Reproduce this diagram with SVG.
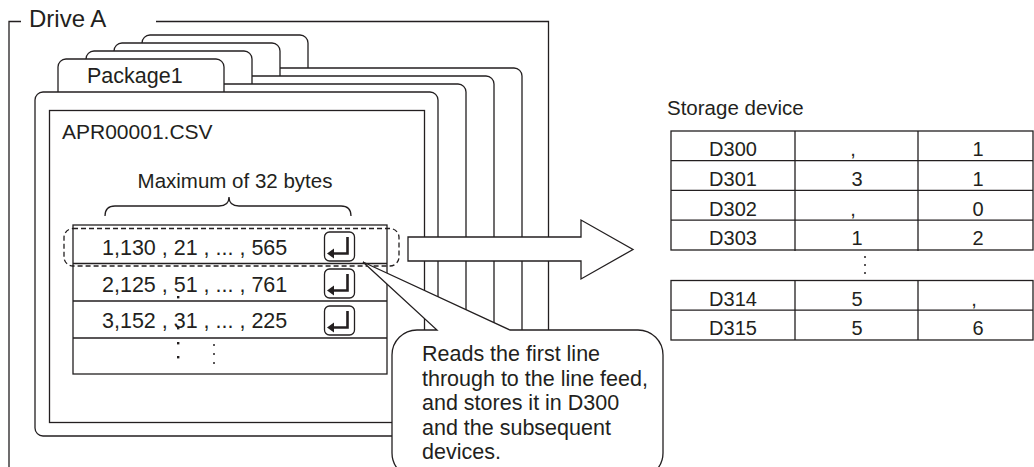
<svg xmlns="http://www.w3.org/2000/svg" width="1034" height="467" viewBox="0 0 1034 467">
<defs>
<style>
.ln{fill:none;stroke:#231f20;stroke-width:1.3}
.wf{fill:#fff;stroke:#231f20;stroke-width:1.3}
.t{font-family:"Liberation Sans",Arial,sans-serif;fill:#231f20}
.dot{fill:#231f20}
</style>
<g id="folder">
<rect x="58" y="59" width="166" height="45" rx="8" class="wf"/>
<rect x="35" y="92" width="403" height="344" rx="8" class="wf"/>
</g>
</defs>
<rect width="1034" height="467" fill="#fff"/>

<g id="drive-a">
<path d="M21,21.5 H9 V467 M156,21.5 H548.5 V340" class="ln"/>
<text x="29" y="27" class="t" font-size="24">Drive A</text>
</g>

<g id="packages">
<use href="#folder" transform="translate(84,-24)"/>
<use href="#folder" transform="translate(56,-16)"/>
<use href="#folder" transform="translate(28,-8)"/>
<use href="#folder"/>
<text x="87" y="83" class="t" font-size="21.5">Package1</text>
</g>

<g id="csv-file">
<rect x="49.5" y="110.5" width="375" height="312" class="wf"/>
<text x="62" y="139" class="t" font-size="21">APR00001.CSV</text>
<text x="235" y="188" class="t" font-size="20.5" text-anchor="middle">Maximum of 32 bytes</text>
<path d="M105,216 Q105,206 115,206 L219,206 Q229,206 229,197 Q229,206 239,206 L341,206 Q351,206 351,216" class="ln"/>
</g>

<g id="rows">
<rect x="73" y="225" width="314" height="149" class="ln"/>
<path d="M73,263.5 H387 M73,301 H387 M73,338 H387" class="ln"/>
<rect x="64" y="228.5" width="335" height="37.5" rx="9" class="ln" stroke-dasharray="5,3"/>
<text x="102" y="255" class="t" font-size="21.5">1,130 , 21 , ... , 565</text>
<text x="102" y="292" class="t" font-size="21.5">2,125 , 51 , ... , 761</text>
<text x="102" y="328" class="t" font-size="21.5">3,152 , 31 , ... , 225</text>
<rect x="177" y="296" width="2.4" height="2.4" class="dot"/>
<rect x="177" y="327" width="2.4" height="2.4" class="dot"/>
<rect x="177" y="342" width="2.4" height="2.4" class="dot"/>
<rect x="177" y="356" width="2.4" height="2.4" class="dot"/>
<circle cx="214" cy="345" r="1" class="dot"/>
<circle cx="214" cy="354" r="1" class="dot"/>
<circle cx="214" cy="363" r="1" class="dot"/>
</g>

<g id="line-feeds">
<g id="lf1">
<rect x="324.5" y="232" width="30" height="29" rx="5" class="ln"/>
<path d="M347.5,237 V253.5 H332" fill="none" stroke="#231f20" stroke-width="2.6"/>
<path d="M327,253.5 L334,248.5 L334,258.5 Z" class="dot"/>
</g>
<use href="#lf1" transform="translate(0,37)"/>
<use href="#lf1" transform="translate(0,74)"/>
</g>

<g id="connectors">
<path d="M408,237 H581 V220 L633,249.5 L581,279 V261 H408 Z" class="wf"/>
</g>

<g id="callout">
<path d="M392,355 A25,25 0 0 1 417,330 H437 L363,262 L510,330 H638 A25,25 0 0 1 663,355 V453 A25,25 0 0 1 638,478 H417 A25,25 0 0 1 392,453 Z" class="wf"/>
<text class="t" font-size="21.5">
<tspan x="422" y="361">Reads the first line</tspan>
<tspan x="422" y="385.6">through to the line feed,</tspan>
<tspan x="422" y="410.2">and stores it in D300</tspan>
<tspan x="422" y="434.8">and the subsequent</tspan>
<tspan x="422" y="459.4">devices.</tspan>
</text>
</g>

<g id="storage-device">
<text x="667" y="115" class="t" font-size="20.5">Storage device</text>
<rect x="671" y="131" width="362" height="119" class="ln"/>
<path d="M671,160.7 H1033 M671,190.4 H1033 M671,220.1 H1033 M795,131 V251 M918,131 V251" class="ln"/>
<rect x="671" y="280.5" width="362" height="59.5" class="ln"/>
<path d="M671,310.2 H1033 M795,280.5 V340 M918,280.5 V340" class="ln"/>
<g class="t" font-size="20" text-anchor="middle">
<text x="733" y="156">D300</text>
<text x="733" y="186">D301</text>
<text x="733" y="215.5">D302</text>
<text x="733" y="245">D303</text>
<text x="733" y="305.5">D314</text>
<text x="733" y="335">D315</text>
<text x="853" y="156">,</text>
<text x="857" y="186">3</text>
<text x="853" y="215.5">,</text>
<text x="857" y="245">1</text>
<text x="857" y="305.5">5</text>
<text x="857" y="335">5</text>
<text x="978" y="156">1</text>
<text x="978" y="186">1</text>
<text x="978" y="215.5">0</text>
<text x="978" y="245">2</text>
<text x="974" y="305.5">,</text>
<text x="978" y="335">6</text>
</g>
<circle cx="865" cy="257" r="1" class="dot"/>
<circle cx="865" cy="265" r="1" class="dot"/>
<circle cx="865" cy="273" r="1" class="dot"/>
</g>
</svg>
